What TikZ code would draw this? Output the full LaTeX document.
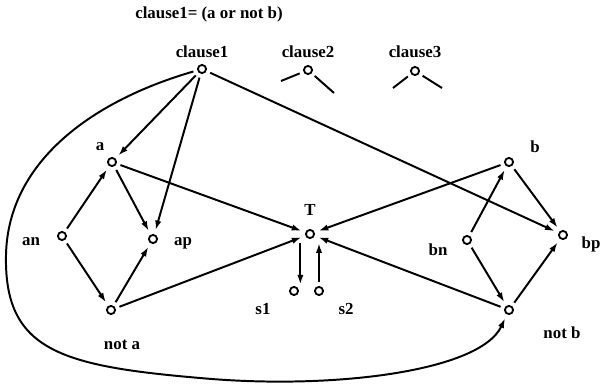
\documentclass[tikz,border=0pt]{standalone}
\usepackage{fontspec}
\setmainfont{Liberation Serif}
\usetikzlibrary{arrows.meta, positioning}

\begin{document}
\begin{tikzpicture}[
            x=0.025cm, y=-0.025cm,
            every node/.style={font=\fontsize{12}{14}\selectfont\bfseries},
            vtx/.style={circle, draw, line width=1.3pt, inner sep=0pt, minimum size=5.8pt, outer sep=3.5pt},
            arr/.style={-{Latex[length=7pt,width=4.5pt]}, line width=1.4pt},
            stub/.style={line width=1.4pt}
        ]
        \useasboundingbox (0,0) rectangle (600,386);

        \node (title) at (209,14) {clause1= (a or not b)};

        % clause nodes
        \node[vtx] (c1) at (202,69) {};
        \node[vtx] (c2) at (308,70) {};
        \node[vtx] (c3) at (415,71) {};
        \node (c1l) at (202,52) {clause1};
        \node (c2l) at (308,52) {clause2};
        \node (c3l) at (415,52) {clause3};

        % literal a
        \node[vtx] (a)   at (112,162) {};
        \node[vtx] (an)  at (62,236)  {};
        \node[vtx] (ap)  at (153,239) {};
        \node[vtx] (na)  at (111,310) {};
        \node (al)  at (100,147) {a};
        \node (anl) at (31,242)  {an};
        \node (apl) at (183,243) {ap};
        \node (nal) at (122,345) {not a};

        % T
        \node[vtx] (T)  at (310,234) {};
        \node[vtx] (s1) at (294,291) {};
        \node[vtx] (s2) at (319,291) {};
        \node (Tl)  at (310,210) {T};
        \node (s1l) at (263,309) {s1};
        \node (s2l) at (346,309) {s2};

        % literal b
        \node[vtx] (b)  at (509,162) {};
        \node[vtx] (bn) at (467,240) {};
        \node[vtx] (bp) at (563,235) {};
        \node[vtx] (nb) at (509,310) {};
        \node (bl)  at (535,147) {b};
        \node (bnl) at (438,250) {bn};
        \node (bpl) at (591,244) {bp};
        \node (nbl) at (562,333) {not b};

        % stubs of clause2, clause3
        \coordinate (c2w) at (281,81);
        \coordinate (c2e) at (334,93);
        \coordinate (c3w) at (393,88);
        \coordinate (c3e) at (442,88);
        \draw[stub] (c2) -- (c2w);
        \draw[stub] (c2) -- (c2e);
        \draw[stub] (c3) -- (c3w);
        \draw[stub] (c3) -- (c3e);

        \draw[arr] (c1) -- (a);
        \draw[arr] (c1) -- (ap);
        \draw[arr] (c1) -- (bp);
        \draw[arr] (c1) .. controls (95,100) and (8,160) .. (6,255)
                        .. controls (4,350) and (60,366) .. (200,378)
                        .. controls (330,390) and (480,372) .. (nb);

        \draw[arr] (an) -- (a);
        \draw[arr] (an) -- (na);
        \draw[arr] (a) -- (ap);
        \draw[arr] (na) -- (ap);
        \draw[arr] (a) -- (T);
        \draw[arr] (na) -- (T);

        \draw[arr] (T.south -| s1.north east) -- (s1.north east);
        \draw[arr] (s2.north) -- (s2.north |- T.south);

        \draw[arr] (b) -- (T);
        \draw[arr] (nb) -- (T);
        \draw[arr] (bn) -- (b);
        \draw[arr] (b) -- (bp);
        \draw[arr] (bn) -- (nb);
        \draw[arr] (nb) -- (bp);

    \end{tikzpicture}
\end{document}
